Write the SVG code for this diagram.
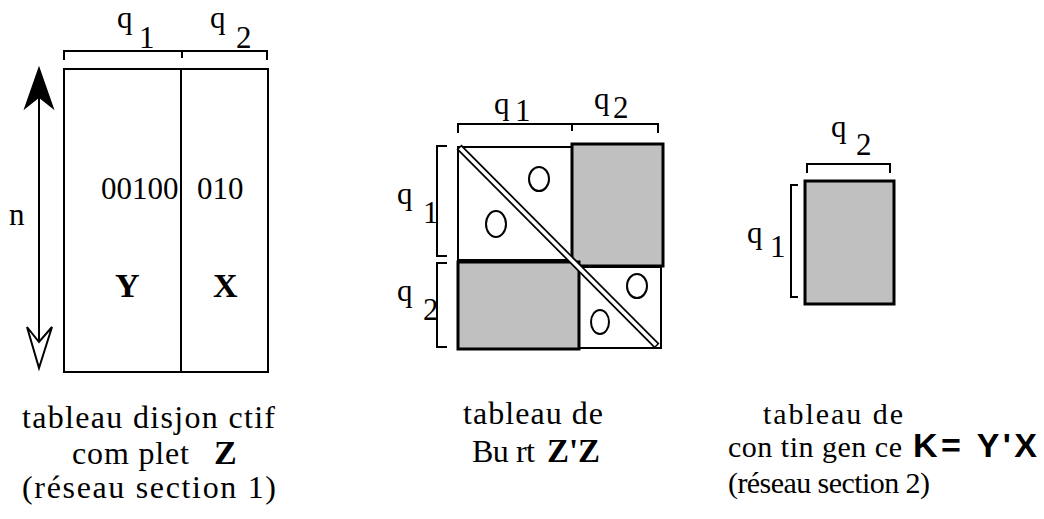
<svg xmlns="http://www.w3.org/2000/svg" width="1044" height="519" viewBox="0 0 1044 519">
<style>
.ln{fill:none;stroke:#000;stroke-width:2}
.box{fill:#fff;stroke:#000;stroke-width:2}
.gray{fill:#c0c0c0;stroke:#000;stroke-width:3}
.t{font-family:"Liberation Serif","Times New Roman",serif;font-size:31px;fill:#000}
.cap{font-family:"Liberation Serif","Times New Roman",serif;font-size:32px;fill:#000}
.capr{font-family:"Liberation Serif","Times New Roman",serif;font-size:30px;fill:#000}
.bs{font-family:"Liberation Serif","Times New Roman",serif;font-weight:bold;font-size:34px;fill:#000}
.ba{font-family:"Liberation Sans",Arial,sans-serif;font-weight:bold;font-size:34px;fill:#000}
.ov{fill:none;stroke:#000;stroke-width:2}
</style>
<rect width="1044" height="519" fill="#fff"/>

<g id="disjonctif">
  <path class="ln" d="M64,60 V51 H267 V60 M182,51 V58"/>
  <text class="t" x="117" y="28">q</text>
  <text class="t" x="139" y="48">1</text>
  <text class="t" x="210" y="28">q</text>
  <text class="t" x="236" y="48">2</text>
  <rect class="box" x="64" y="69" width="204" height="303"/>
  <line class="ln" x1="181" y1="69" x2="181" y2="372"/>
  <text class="t" x="101" y="199">00100</text>
  <text class="t" x="197" y="199">010</text>
  <text class="bs" x="115" y="297" font-size="30">Y</text>
  <text class="bs" x="213" y="297" font-size="30">X</text>
  <text class="t" x="9" y="225">n</text>
  <line class="ln" x1="39" y1="97" x2="39" y2="342"/>
  <path d="M39,68 L53,108 L39,97 L25,108 Z" fill="#000" stroke="#000" stroke-width="1.5"/>
  <path d="M39,368 L52,327 L39,342 L27,327 Z" fill="#fff" stroke="#000" stroke-width="2"/>
  <text class="cap" x="22" y="428" textLength="253" lengthAdjust="spacing">tableau disjon ctif</text>
  <text class="cap" x="72" y="464" textLength="117" lengthAdjust="spacing">com plet</text>
  <text class="bs" x="214" y="464">Z</text>
  <text class="cap" x="22" y="498" textLength="254" lengthAdjust="spacing">(réseau section 1)</text>
</g>

<g id="burt">
  <path class="ln" d="M458,133 V124 H658 V133 M572,124 V131"/>
  <text class="t" x="494" y="114">q</text>
  <text class="t" x="515" y="121">1</text>
  <text class="t" x="594" y="109">q</text>
  <text class="t" x="613" y="118">2</text>
  <path class="ln" d="M447,146 H437 V256 H447 M447,263 H437 V347 H447"/>
  <text class="t" x="397" y="204">q</text>
  <text class="t" x="423" y="223">1</text>
  <text class="t" x="397" y="301">q</text>
  <text class="t" x="423" y="320">2</text>
  <rect class="box" x="458" y="147" width="114" height="113"/>
  <rect class="box" x="579" y="267" width="82" height="81"/>
  <rect class="gray" x="572" y="144" width="91" height="122"/>
  <rect class="gray" x="458" y="262" width="121" height="87"/>
  <ellipse class="ov" cx="539" cy="179" rx="10" ry="12"/>
  <ellipse class="ov" cx="496" cy="224" rx="10" ry="13"/>
  <ellipse class="ov" cx="637" cy="286" rx="10" ry="12"/>
  <ellipse class="ov" cx="600" cy="322" rx="9" ry="12"/>
  <line x1="459" y1="147" x2="657" y2="346" stroke="#000" stroke-width="7"/>
  <line x1="460" y1="148" x2="656" y2="345" stroke="#fff" stroke-width="3.5"/>
  <text class="cap" x="463" y="424" textLength="140" lengthAdjust="spacing">tableau de</text>
  <text class="cap" x="472" y="462" textLength="63" lengthAdjust="spacing">Bu rt</text>
  <text class="bs" x="547" y="462" textLength="53" lengthAdjust="spacingAndGlyphs">Z'Z</text>
</g>

<g id="contingence">
  <path class="ln" d="M807,173 V164 H890 V173"/>
  <text class="t" x="831" y="137">q</text>
  <text class="t" x="856" y="155">2</text>
  <path class="ln" d="M798,185 H791 V297 H798"/>
  <text class="t" x="747" y="243">q</text>
  <text class="t" x="770" y="257">1</text>
  <rect class="gray" x="805" y="181" width="89" height="123"/>
  <text class="capr" x="763" y="424" textLength="140" lengthAdjust="spacing">tableau de</text>
  <text class="capr" x="728" y="457" textLength="174" lengthAdjust="spacing">con tin gen ce</text>
  <text class="ba" x="913" y="457" textLength="124" lengthAdjust="spacing">K= Y'X</text>
  <text class="capr" x="728" y="493" textLength="202" lengthAdjust="spacing">(réseau section 2)</text>
</g>

<g id="connectors"></g>
</svg>
